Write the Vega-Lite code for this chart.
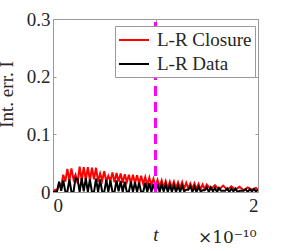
{
  "$schema": "https://vega.github.io/schema/vega-lite/v6.json",
  "autosize": {"type": "none"},
  "width": 205,
  "height": 173,
  "padding": {"left": 53, "top": 19, "right": 28, "bottom": 59},
  "background": "white",
  "config": {
    "view": {"stroke": "#9a9a9a", "strokeWidth": 1},
    "font": "Liberation Serif",
    "axis": {
      "domainColor": "#9a9a9a",
      "tickColor": "#9a9a9a",
      "labelColor": "#262626",
      "titleColor": "#262626",
      "labelFont": "Liberation Serif",
      "titleFont": "Liberation Serif",
      "labelFontSize": 19,
      "titleFontSize": 19,
      "titleFontWeight": "normal",
      "grid": false,
      "tickSize": -3
    }
  },
  "title": {
    "text": "×10⁻¹⁰",
    "orient": "bottom",
    "anchor": "end",
    "font": "DejaVu Serif",
    "fontSize": 17,
    "fontWeight": "normal",
    "color": "#262626",
    "offset": -14,
    "dx": -2
  },
  "resolve": {"axis": {"x": "independent", "y": "independent"}},
  "layer": [
    {
      "data": {"values": [
        {"t": 0.00, "err": 0.000, "series": "L-R Closure"},
        {"t": 0.02, "err": 0.004, "series": "L-R Closure"},
        {"t": 0.04, "err": 0.002, "series": "L-R Closure"},
        {"t": 0.06, "err": 0.015, "series": "L-R Closure"},
        {"t": 0.08, "err": 0.010, "series": "L-R Closure"},
        {"t": 0.10, "err": 0.030, "series": "L-R Closure"},
        {"t": 0.12, "err": 0.018, "series": "L-R Closure"},
        {"t": 0.14, "err": 0.040, "series": "L-R Closure"},
        {"t": 0.16, "err": 0.020, "series": "L-R Closure"},
        {"t": 0.18, "err": 0.041, "series": "L-R Closure"},
        {"t": 0.20, "err": 0.022, "series": "L-R Closure"},
        {"t": 0.22, "err": 0.030, "series": "L-R Closure"},
        {"t": 0.24, "err": 0.015, "series": "L-R Closure"},
        {"t": 0.26, "err": 0.044, "series": "L-R Closure"},
        {"t": 0.28, "err": 0.020, "series": "L-R Closure"},
        {"t": 0.30, "err": 0.043, "series": "L-R Closure"},
        {"t": 0.32, "err": 0.021, "series": "L-R Closure"},
        {"t": 0.34, "err": 0.043, "series": "L-R Closure"},
        {"t": 0.36, "err": 0.020, "series": "L-R Closure"},
        {"t": 0.38, "err": 0.042, "series": "L-R Closure"},
        {"t": 0.40, "err": 0.022, "series": "L-R Closure"},
        {"t": 0.42, "err": 0.042, "series": "L-R Closure"},
        {"t": 0.44, "err": 0.018, "series": "L-R Closure"},
        {"t": 0.46, "err": 0.032, "series": "L-R Closure"},
        {"t": 0.48, "err": 0.020, "series": "L-R Closure"},
        {"t": 0.50, "err": 0.036, "series": "L-R Closure"},
        {"t": 0.52, "err": 0.018, "series": "L-R Closure"},
        {"t": 0.54, "err": 0.028, "series": "L-R Closure"},
        {"t": 0.56, "err": 0.019, "series": "L-R Closure"},
        {"t": 0.58, "err": 0.034, "series": "L-R Closure"},
        {"t": 0.60, "err": 0.017, "series": "L-R Closure"},
        {"t": 0.62, "err": 0.033, "series": "L-R Closure"},
        {"t": 0.64, "err": 0.018, "series": "L-R Closure"},
        {"t": 0.66, "err": 0.032, "series": "L-R Closure"},
        {"t": 0.68, "err": 0.016, "series": "L-R Closure"},
        {"t": 0.70, "err": 0.031, "series": "L-R Closure"},
        {"t": 0.72, "err": 0.017, "series": "L-R Closure"},
        {"t": 0.74, "err": 0.030, "series": "L-R Closure"},
        {"t": 0.76, "err": 0.015, "series": "L-R Closure"},
        {"t": 0.78, "err": 0.030, "series": "L-R Closure"},
        {"t": 0.80, "err": 0.015, "series": "L-R Closure"},
        {"t": 0.82, "err": 0.029, "series": "L-R Closure"},
        {"t": 0.84, "err": 0.014, "series": "L-R Closure"},
        {"t": 0.86, "err": 0.028, "series": "L-R Closure"},
        {"t": 0.88, "err": 0.014, "series": "L-R Closure"},
        {"t": 0.90, "err": 0.026, "series": "L-R Closure"},
        {"t": 0.92, "err": 0.012, "series": "L-R Closure"},
        {"t": 0.94, "err": 0.025, "series": "L-R Closure"},
        {"t": 0.96, "err": 0.012, "series": "L-R Closure"},
        {"t": 0.98, "err": 0.023, "series": "L-R Closure"},
        {"t": 1.00, "err": 0.010, "series": "L-R Closure"},
        {"t": 1.02, "err": 0.021, "series": "L-R Closure"},
        {"t": 1.04, "err": 0.009, "series": "L-R Closure"},
        {"t": 1.06, "err": 0.020, "series": "L-R Closure"},
        {"t": 1.08, "err": 0.008, "series": "L-R Closure"},
        {"t": 1.10, "err": 0.019, "series": "L-R Closure"},
        {"t": 1.12, "err": 0.007, "series": "L-R Closure"},
        {"t": 1.14, "err": 0.018, "series": "L-R Closure"},
        {"t": 1.16, "err": 0.008, "series": "L-R Closure"},
        {"t": 1.18, "err": 0.018, "series": "L-R Closure"},
        {"t": 1.20, "err": 0.007, "series": "L-R Closure"},
        {"t": 1.22, "err": 0.017, "series": "L-R Closure"},
        {"t": 1.24, "err": 0.007, "series": "L-R Closure"},
        {"t": 1.26, "err": 0.017, "series": "L-R Closure"},
        {"t": 1.28, "err": 0.006, "series": "L-R Closure"},
        {"t": 1.30, "err": 0.016, "series": "L-R Closure"},
        {"t": 1.32, "err": 0.006, "series": "L-R Closure"},
        {"t": 1.34, "err": 0.015, "series": "L-R Closure"},
        {"t": 1.36, "err": 0.006, "series": "L-R Closure"},
        {"t": 1.38, "err": 0.015, "series": "L-R Closure"},
        {"t": 1.40, "err": 0.005, "series": "L-R Closure"},
        {"t": 1.42, "err": 0.014, "series": "L-R Closure"},
        {"t": 1.44, "err": 0.005, "series": "L-R Closure"},
        {"t": 1.46, "err": 0.013, "series": "L-R Closure"},
        {"t": 1.48, "err": 0.005, "series": "L-R Closure"},
        {"t": 1.50, "err": 0.013, "series": "L-R Closure"},
        {"t": 1.54, "err": 0.005, "series": "L-R Closure"},
        {"t": 1.58, "err": 0.012, "series": "L-R Closure"},
        {"t": 1.62, "err": 0.004, "series": "L-R Closure"},
        {"t": 1.66, "err": 0.011, "series": "L-R Closure"},
        {"t": 1.70, "err": 0.004, "series": "L-R Closure"},
        {"t": 1.74, "err": 0.010, "series": "L-R Closure"},
        {"t": 1.78, "err": 0.004, "series": "L-R Closure"},
        {"t": 1.82, "err": 0.009, "series": "L-R Closure"},
        {"t": 1.86, "err": 0.003, "series": "L-R Closure"},
        {"t": 1.90, "err": 0.008, "series": "L-R Closure"},
        {"t": 1.94, "err": 0.004, "series": "L-R Closure"},
        {"t": 1.98, "err": 0.007, "series": "L-R Closure"},
        {"t": 2.00, "err": 0.004, "series": "L-R Closure"},
        {"t": 0.00, "err": 0.000, "series": "L-R Data"},
        {"t": 0.02, "err": 0.000, "series": "L-R Data"},
        {"t": 0.04, "err": 0.002, "series": "L-R Data"},
        {"t": 0.06, "err": 0.018, "series": "L-R Data"},
        {"t": 0.08, "err": 0.002, "series": "L-R Data"},
        {"t": 0.10, "err": 0.020, "series": "L-R Data"},
        {"t": 0.12, "err": 0.001, "series": "L-R Data"},
        {"t": 0.14, "err": 0.000, "series": "L-R Data"},
        {"t": 0.16, "err": 0.022, "series": "L-R Data"},
        {"t": 0.18, "err": 0.000, "series": "L-R Data"},
        {"t": 0.20, "err": 0.000, "series": "L-R Data"},
        {"t": 0.22, "err": 0.024, "series": "L-R Data"},
        {"t": 0.24, "err": 0.022, "series": "L-R Data"},
        {"t": 0.26, "err": 0.000, "series": "L-R Data"},
        {"t": 0.28, "err": 0.024, "series": "L-R Data"},
        {"t": 0.30, "err": 0.001, "series": "L-R Data"},
        {"t": 0.32, "err": 0.024, "series": "L-R Data"},
        {"t": 0.34, "err": 0.000, "series": "L-R Data"},
        {"t": 0.36, "err": 0.022, "series": "L-R Data"},
        {"t": 0.38, "err": 0.000, "series": "L-R Data"},
        {"t": 0.40, "err": 0.000, "series": "L-R Data"},
        {"t": 0.42, "err": 0.023, "series": "L-R Data"},
        {"t": 0.44, "err": 0.000, "series": "L-R Data"},
        {"t": 0.46, "err": 0.022, "series": "L-R Data"},
        {"t": 0.48, "err": 0.000, "series": "L-R Data"},
        {"t": 0.50, "err": 0.000, "series": "L-R Data"},
        {"t": 0.52, "err": 0.021, "series": "L-R Data"},
        {"t": 0.54, "err": 0.000, "series": "L-R Data"},
        {"t": 0.56, "err": 0.020, "series": "L-R Data"},
        {"t": 0.58, "err": 0.000, "series": "L-R Data"},
        {"t": 0.60, "err": 0.000, "series": "L-R Data"},
        {"t": 0.62, "err": 0.020, "series": "L-R Data"},
        {"t": 0.64, "err": 0.001, "series": "L-R Data"},
        {"t": 0.66, "err": 0.019, "series": "L-R Data"},
        {"t": 0.68, "err": 0.000, "series": "L-R Data"},
        {"t": 0.70, "err": 0.018, "series": "L-R Data"},
        {"t": 0.72, "err": 0.000, "series": "L-R Data"},
        {"t": 0.74, "err": 0.000, "series": "L-R Data"},
        {"t": 0.76, "err": 0.018, "series": "L-R Data"},
        {"t": 0.78, "err": 0.000, "series": "L-R Data"},
        {"t": 0.80, "err": 0.017, "series": "L-R Data"},
        {"t": 0.82, "err": 0.000, "series": "L-R Data"},
        {"t": 0.84, "err": 0.016, "series": "L-R Data"},
        {"t": 0.86, "err": 0.000, "series": "L-R Data"},
        {"t": 0.88, "err": 0.000, "series": "L-R Data"},
        {"t": 0.90, "err": 0.016, "series": "L-R Data"},
        {"t": 0.92, "err": 0.000, "series": "L-R Data"},
        {"t": 0.94, "err": 0.015, "series": "L-R Data"},
        {"t": 0.96, "err": 0.000, "series": "L-R Data"},
        {"t": 0.98, "err": 0.014, "series": "L-R Data"},
        {"t": 1.00, "err": 0.000, "series": "L-R Data"},
        {"t": 1.02, "err": 0.014, "series": "L-R Data"},
        {"t": 1.04, "err": 0.000, "series": "L-R Data"},
        {"t": 1.06, "err": 0.013, "series": "L-R Data"},
        {"t": 1.08, "err": 0.001, "series": "L-R Data"},
        {"t": 1.10, "err": 0.013, "series": "L-R Data"},
        {"t": 1.12, "err": 0.000, "series": "L-R Data"},
        {"t": 1.14, "err": 0.012, "series": "L-R Data"},
        {"t": 1.16, "err": 0.000, "series": "L-R Data"},
        {"t": 1.18, "err": 0.012, "series": "L-R Data"},
        {"t": 1.20, "err": 0.000, "series": "L-R Data"},
        {"t": 1.22, "err": 0.011, "series": "L-R Data"},
        {"t": 1.24, "err": 0.000, "series": "L-R Data"},
        {"t": 1.26, "err": 0.011, "series": "L-R Data"},
        {"t": 1.28, "err": 0.001, "series": "L-R Data"},
        {"t": 1.30, "err": 0.004, "series": "L-R Data"},
        {"t": 1.32, "err": 0.004, "series": "L-R Data"},
        {"t": 1.34, "err": 0.010, "series": "L-R Data"},
        {"t": 1.36, "err": 0.000, "series": "L-R Data"},
        {"t": 1.38, "err": 0.009, "series": "L-R Data"},
        {"t": 1.40, "err": 0.000, "series": "L-R Data"},
        {"t": 1.42, "err": 0.009, "series": "L-R Data"},
        {"t": 1.44, "err": 0.001, "series": "L-R Data"},
        {"t": 1.46, "err": 0.003, "series": "L-R Data"},
        {"t": 1.48, "err": 0.003, "series": "L-R Data"},
        {"t": 1.50, "err": 0.008, "series": "L-R Data"},
        {"t": 1.52, "err": 0.000, "series": "L-R Data"},
        {"t": 1.54, "err": 0.008, "series": "L-R Data"},
        {"t": 1.56, "err": 0.001, "series": "L-R Data"},
        {"t": 1.58, "err": 0.007, "series": "L-R Data"},
        {"t": 1.60, "err": 0.000, "series": "L-R Data"},
        {"t": 1.62, "err": 0.007, "series": "L-R Data"},
        {"t": 1.64, "err": 0.002, "series": "L-R Data"},
        {"t": 1.66, "err": 0.002, "series": "L-R Data"},
        {"t": 1.68, "err": 0.002, "series": "L-R Data"},
        {"t": 1.70, "err": 0.006, "series": "L-R Data"},
        {"t": 1.72, "err": 0.000, "series": "L-R Data"},
        {"t": 1.74, "err": 0.006, "series": "L-R Data"},
        {"t": 1.76, "err": 0.001, "series": "L-R Data"},
        {"t": 1.78, "err": 0.006, "series": "L-R Data"},
        {"t": 1.80, "err": 0.000, "series": "L-R Data"},
        {"t": 1.82, "err": 0.002, "series": "L-R Data"},
        {"t": 1.84, "err": 0.002, "series": "L-R Data"},
        {"t": 1.86, "err": 0.002, "series": "L-R Data"},
        {"t": 1.88, "err": 0.005, "series": "L-R Data"},
        {"t": 1.90, "err": 0.000, "series": "L-R Data"},
        {"t": 1.92, "err": 0.005, "series": "L-R Data"},
        {"t": 1.94, "err": 0.001, "series": "L-R Data"},
        {"t": 1.96, "err": 0.005, "series": "L-R Data"},
        {"t": 1.98, "err": 0.001, "series": "L-R Data"},
        {"t": 2.00, "err": 0.004, "series": "L-R Data"}
      ]},
      "mark": {"type": "line", "strokeWidth": 2, "clip": true},
      "encoding": {
        "x": {
          "field": "t", "type": "quantitative",
          "scale": {"domain": [0, 2], "nice": false, "zero": false},
          "axis": {"values": [0, 1, 2], "format": "d", "title": "t", "titleFontStyle": "italic", "labelPadding": 7, "titlePadding": 10}
        },
        "y": {
          "field": "err", "type": "quantitative",
          "scale": {"domain": [0, 0.3], "nice": false},
          "axis": {"values": [0, 0.1, 0.2, 0.3], "format": ".1~f", "title": "Int. err. I", "labelPadding": 6, "titleX": -41, "titleY": 75, "titleAngle": 270, "titleBaseline": "alphabetic", "titleAlign": "center"}
        },
        "color": {
          "field": "series", "type": "nominal",
          "scale": {"domain": ["L-R Closure", "L-R Data"], "range": ["#ff0000", "#000000"]},
          "legend": {
            "title": null,
            "orient": "none",
            "legendX": 62,
            "legendY": 7,
            "symbolType": "M-1.5,0H1.5",
            "symbolSize": 400,
            "symbolOffset": 5,
            "symbolStrokeWidth": 2,
            "labelFont": "Liberation Serif",
            "labelFontSize": 19,
            "labelColor": "#262626",
            "labelOffset": 12,
            "rowPadding": 3,
            "padding": 3,
            "strokeColor": "#9a9a9a",
            "fillColor": "white"
          }
        }
      }
    },
    {
      "data": {"values": [{"t": 1}]},
      "mark": {"type": "rule", "color": "#ff00ff", "strokeWidth": 3, "strokeDash": [10, 6]},
      "encoding": {
        "x": {"field": "t", "type": "quantitative",
          "axis": {"orient": "top", "values": [0, 1, 2], "labels": false, "title": null, "domain": false}},
        "y": {"datum": 0, "type": "quantitative",
          "axis": {"orient": "right", "values": [0, 0.1, 0.2, 0.3], "labels": false, "title": null, "domain": false}},
        "y2": {"datum": 0.3}
      }
    }
  ]
}
